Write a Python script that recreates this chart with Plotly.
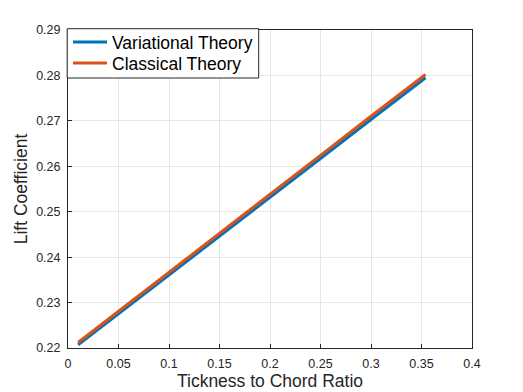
import plotly.graph_objects as go

ratio = [0.01, 0.05, 0.1, 0.15, 0.2, 0.25, 0.3, 0.354]
variational = [0.2207, 0.2275, 0.2361, 0.2446, 0.2532, 0.2617, 0.2703, 0.2795]
classical = [0.2212, 0.2281, 0.2367, 0.2453, 0.2539, 0.2624, 0.2710, 0.2802]

x_ticks = [0, 0.05, 0.1, 0.15, 0.2, 0.25, 0.3, 0.35, 0.4]
x_labels = ["0", "0.05", "0.1", "0.15", "0.2", "0.25", "0.3", "0.35", "0.4"]
y_ticks = [0.22, 0.23, 0.24, 0.25, 0.26, 0.27, 0.28, 0.29]
y_labels = ["0.22", "0.23", "0.24", "0.25", "0.26", "0.27", "0.28", "0.29"]

FONT = "Liberation Sans, Arial, sans-serif"

fig = go.Figure()
fig.add_trace(go.Scatter(x=ratio, y=variational, mode="lines", name="Variational Theory",
                         line=dict(color="#0072BD", width=3), legend="legend"))
fig.add_trace(go.Scatter(x=ratio, y=classical, mode="lines", name="Classical Theory",
                         line=dict(color="#D95319", width=3), legend="legend2"))

axis_common = dict(showgrid=True, gridcolor="#E6E6E6", gridwidth=1, zeroline=False,
                   showline=True, linecolor="#262626", linewidth=1, mirror=True,
                   ticks="inside", ticklen=4, tickcolor="#262626", automargin=False,
                   ticklabelstandoff=4,
                   tickfont=dict(family=FONT, size=12.5, color="#262626"))

fig.update_xaxes(range=[0, 0.4], tickvals=x_ticks, ticktext=x_labels,
                 title=dict(text="Tickness to Chord Ratio", standoff=4,
                            font=dict(family=FONT, size=17.5, color="#262626")),
                 **axis_common)
fig.update_yaxes(range=[0.22, 0.29], tickvals=y_ticks, ticktext=y_labels,
                 title=dict(text="Lift Coefficient", standoff=4,
                            font=dict(family=FONT, size=17.5, color="#262626")),
                 **axis_common)

leg_common = dict(xanchor="left", yanchor="middle", bgcolor="rgba(0,0,0,0)", borderwidth=0,
                  font=dict(family=FONT, size=17.5, color="#000000"), itemwidth=34)

fig.update_layout(
    width=515, height=384,
    margin=dict(l=60, r=51, t=22, b=44),
    paper_bgcolor="white", plot_bgcolor="white",
    legend=dict(x=0.0, y=0.962, **leg_common),
    legend2=dict(x=0.0, y=0.896, **leg_common),
    showlegend=True,
    shapes=[dict(type="rect", xref="paper", yref="paper",
                 x0=-0.002, x1=0.472, y0=0.849, y1=1.004,
                 fillcolor="white", line=dict(color="#262626", width=1), layer="above")],
)

fig.write_html("out.html")
